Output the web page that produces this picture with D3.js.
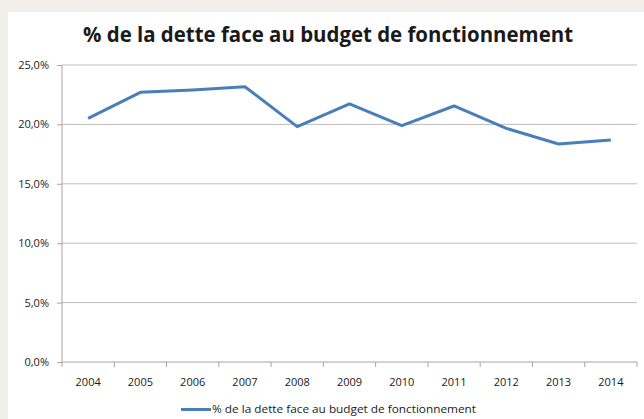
<!DOCTYPE html>
<html>
<head>
<meta charset="utf-8">
<script src="https://cdn.jsdelivr.net/npm/d3@7.9.0/dist/d3.min.js"></script>
<style>
  body { margin: 0; background: #f2efeb; }
  svg { display: block; }
  text { font-family: "Open Sans", "Noto Sans", sans-serif; fill: #1a1a1a; }
</style>
</head>
<body>
<svg id="chart" width="644" height="419"></svg>
<script>
const years = ['2004', '2005', '2006', '2007', '2008', '2009', '2010', '2011', '2012', '2013', '2014'];
const debtShare = [20.5, 22.7, 22.9, 23.17, 19.81, 21.72, 19.89, 21.55, 19.67, 18.35, 18.69];
const yTicks = [0, 5, 10, 15, 20, 25];
const seriesName = '% de la dette face au budget de fonctionnement';

const svg = d3.select('#chart');

// white chart panel
svg.append('rect')
  .attr('x', 8).attr('y', 12)
  .attr('width', 636).attr('height', 407)
  .attr('fill', '#ffffff');

const plotLeft = 62, plotRight = 637, plotTop = 65, plotBottom = 362;

let x = d3.scaleBand().domain(years).range([plotLeft, plotRight]);
let y = d3.scaleLinear().domain([0, 25]).range([plotBottom, plotTop]);

// gridlines
svg.append('g')
  .selectAll('line')
  .data(yTicks.filter(d => d > 0))
  .join('line')
  .attr('x1', plotLeft).attr('x2', plotRight)
  .attr('y1', d => y(d)).attr('y2', d => y(d))
  .attr('stroke', '#bdbdbd').attr('stroke-width', 1);

// y axis
let yAxis = svg.append('g')
  .attr('transform', `translate(${plotLeft},0)`)
  .call(d3.axisLeft(y).tickValues(yTicks).tickSize(5).tickPadding(8)
    .tickFormat(d => d3.format('.1f')(d).replace('.', ',') + '%'));
yAxis.select('.domain').attr('stroke', '#a6a6a6').attr('d', `M0,${plotTop}V${plotBottom}`);
yAxis.selectAll('.tick line').attr('stroke', '#a6a6a6');
yAxis.selectAll('.tick text').style('font-size', '11px').attr('fill', '#1a1a1a');

// x axis, ticks at category boundaries
let xAxis = svg.append('g')
  .attr('transform', `translate(0,${plotBottom})`);
xAxis.append('line')
  .attr('x1', plotLeft).attr('x2', plotRight)
  .attr('stroke', '#a6a6a6');
xAxis.selectAll('.bound')
  .data(d3.range(years.length + 1))
  .join('line')
  .attr('class', 'bound')
  .attr('x1', i => plotLeft + i * x.step()).attr('x2', i => plotLeft + i * x.step())
  .attr('y1', 0).attr('y2', 5)
  .attr('stroke', '#a6a6a6');
xAxis.selectAll('text')
  .data(years)
  .join('text')
  .attr('x', d => x(d) + x.bandwidth() / 2)
  .attr('y', 24)
  .attr('text-anchor', 'middle')
  .style('font-size', '11px')
  .text(d => d);

// line
let line = d3.line()
  .x((d, i) => x(years[i]) + x.bandwidth() / 2)
  .y(d => y(d));
svg.append('path')
  .datum(debtShare)
  .attr('d', line)
  .attr('fill', 'none')
  .attr('stroke', '#4a7ebb')
  .attr('stroke-width', 3)
  .attr('stroke-linejoin', 'round');

// title
svg.append('text')
  .attr('x', 328).attr('y', 42)
  .attr('text-anchor', 'middle')
  .attr('textLength', 490)
  .attr('lengthAdjust', 'spacingAndGlyphs')
  .style('font-size', '21px')
  .style('font-weight', 'bold')
  .text(seriesName);

// legend
svg.append('line')
  .attr('x1', 181).attr('x2', 211)
  .attr('y1', 409.5).attr('y2', 409.5)
  .attr('stroke', '#4a7ebb').attr('stroke-width', 3);
svg.append('text')
  .attr('x', 212).attr('y', 413)
  .attr('textLength', 264)
  .attr('lengthAdjust', 'spacingAndGlyphs')
  .style('font-size', '11px')
  .text(seriesName);
</script>
</body>
</html>
